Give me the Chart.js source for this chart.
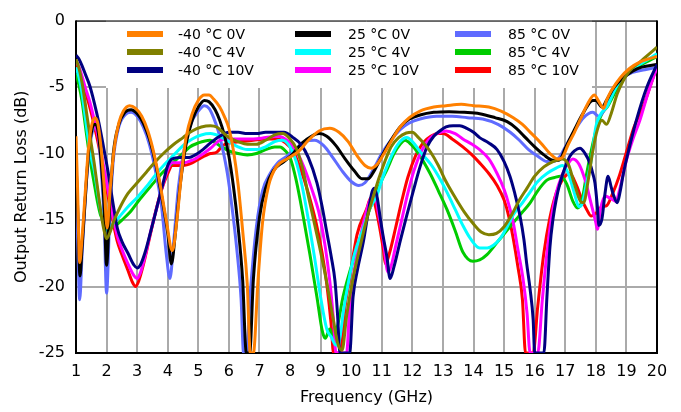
<!DOCTYPE html>
<html>
<head>
<meta charset="utf-8">
<script src="https://cdn.jsdelivr.net/npm/chart.js@4"></script>
<style>
html, body { margin: 0; padding: 0; background: #fff; }
canvas { display: block; }
</style>
</head>
<body>
<canvas id="grafico" width="681" height="412"></canvas>
<script>
// output return loss curves, [frequency GHz, dB]
const m40_0V = [[1.0,-8.7],[1.05,-12.5],[1.12,-18.2],[1.2,-16.3],[1.3,-13.0],[1.4,-9.8],[1.5,-8.0],[1.62,-7.3],[1.72,-7.8],[1.82,-9.6],[1.92,-12.4],[2.02,-15.6],[2.12,-12.6],[2.25,-9.6],[2.4,-7.7],[2.55,-6.8],[2.75,-6.4],[2.95,-6.6],[3.15,-7.2],[3.35,-8.3],[3.55,-10.0],[3.75,-12.3],[3.95,-15.0],[4.15,-17.3],[4.3,-15.0],[4.45,-11.5],[4.6,-8.8],[4.8,-7.0],[5.0,-6.0],[5.2,-5.6],[5.35,-5.6],[5.5,-5.9],[5.7,-6.5],[5.85,-7.2],[6.0,-8.1],[6.15,-9.8],[6.3,-12.3],[6.45,-15.8],[6.6,-19.8],[6.7,-25],[6.8,-25],[6.95,-19.6],[7.1,-15.2],[7.3,-12.4],[7.55,-11.0],[7.9,-10.4],[8.25,-9.9],[8.6,-9.0],[8.95,-8.3],[9.3,-8.1],[9.6,-8.4],[9.9,-9.1],[10.2,-10.2],[10.45,-10.9],[10.65,-11.1],[10.85,-10.8],[11.1,-9.9],[11.35,-8.9],[11.6,-8.0],[11.9,-7.3],[12.25,-6.8],[12.7,-6.5],[13.1,-6.4],[13.6,-6.3],[14.0,-6.4],[14.5,-6.5],[14.9,-6.8],[15.3,-7.3],[15.6,-7.8],[15.9,-8.5],[16.2,-9.2],[16.5,-10.0],[16.75,-10.4],[16.9,-10.3],[17.1,-9.3],[17.3,-8.4],[17.5,-7.4],[17.7,-6.4],[17.95,-5.6],[18.1,-6.1],[18.25,-6.6],[18.35,-6.0],[18.5,-5.3],[18.8,-4.3],[19.1,-3.6],[19.45,-3.1],[19.7,-2.9],[20.0,-2.7]];
const m40_4V = [[1.0,-2.9],[1.1,-3.6],[1.2,-4.7],[1.3,-6.2],[1.4,-7.8],[1.5,-9.3],[1.6,-10.8],[1.7,-12.5],[1.8,-14.2],[1.9,-15.6],[2.0,-16.4],[2.1,-16.0],[2.25,-15.0],[2.45,-14.0],[2.7,-13.0],[3.0,-12.2],[3.3,-11.4],[3.6,-10.6],[3.9,-9.9],[4.2,-9.3],[4.5,-8.8],[4.8,-8.3],[5.1,-8.0],[5.4,-7.9],[5.6,-8.0],[5.8,-8.4],[6.0,-8.8],[6.3,-9.1],[6.6,-9.3],[6.9,-9.3],[7.2,-9.0],[7.5,-8.6],[7.75,-8.5],[8.0,-8.9],[8.2,-9.6],[8.4,-11.0],[8.6,-13.2],[8.8,-15.3],[9.0,-17.4],[9.2,-19.7],[9.4,-22.3],[9.55,-24.2],[9.7,-24.8],[9.85,-22.2],[10.05,-19.5],[10.3,-16.9],[10.5,-15.0],[10.7,-13.4],[10.9,-11.9],[11.1,-10.6],[11.3,-9.5],[11.55,-8.8],[11.8,-8.45],[12.0,-8.4],[12.2,-8.8],[12.4,-9.3],[12.6,-9.9],[12.85,-10.9],[13.1,-12.1],[13.4,-13.3],[13.7,-14.4],[14.0,-15.3],[14.25,-15.9],[14.5,-16.1],[14.75,-16.0],[15.0,-15.5],[15.25,-14.6],[15.5,-13.5],[15.75,-12.6],[16.0,-11.7],[16.3,-11.0],[16.6,-10.6],[16.9,-10.4],[17.1,-10.8],[17.3,-12.3],[17.5,-13.6],[17.6,-13.7],[17.75,-12.0],[17.9,-9.8],[18.05,-8.2],[18.2,-7.5],[18.35,-7.8],[18.5,-7.0],[18.7,-5.5],[18.9,-4.5],[19.1,-3.8],[19.45,-3.1],[19.7,-2.6],[20.0,-2.0]];
const m40_10V = [[1.0,-2.6],[1.1,-2.9],[1.2,-3.4],[1.3,-4.0],[1.45,-4.9],[1.6,-6.2],[1.75,-7.7],[1.9,-9.5],[2.05,-11.4],[2.2,-13.6],[2.35,-15.6],[2.5,-16.6],[2.7,-17.5],[2.9,-18.4],[3.0,-18.6],[3.1,-18.4],[3.25,-17.5],[3.45,-15.8],[3.65,-14.0],[3.85,-12.2],[4.0,-10.9],[4.15,-10.4],[4.4,-10.3],[4.7,-10.3],[4.9,-10.1],[5.15,-9.7],[5.4,-9.2],[5.7,-8.7],[6.0,-8.4],[6.3,-8.4],[6.6,-8.5],[6.9,-8.5],[7.2,-8.4],[7.5,-8.4],[7.8,-8.4],[8.1,-8.8],[8.35,-9.3],[8.6,-10.3],[8.88,-12.2],[9.05,-14.0],[9.2,-15.9],[9.35,-17.8],[9.47,-19.6],[9.55,-22.0],[9.63,-25],[9.95,-25],[10.06,-20.8],[10.2,-18.8],[10.4,-16.6],[10.55,-14.5],[10.68,-12.9],[10.76,-12.6],[10.85,-13.3],[10.94,-14.7],[11.05,-16.3],[11.17,-17.8],[11.27,-19.4],[11.4,-18.5],[11.6,-16.6],[11.8,-14.8],[12.02,-12.9],[12.25,-11.0],[12.48,-9.5],[12.7,-8.7],[12.9,-8.3],[13.1,-8.0],[13.33,-7.9],[13.55,-7.9],[13.78,-8.1],[14.0,-8.4],[14.2,-8.8],[14.5,-9.2],[14.77,-9.7],[15.0,-10.6],[15.19,-11.7],[15.35,-13.0],[15.52,-14.7],[15.65,-16.5],[15.74,-18.3],[15.85,-20.2],[15.95,-22.5],[16.0,-25],[16.3,-25],[16.4,-20.8],[16.5,-17.0],[16.6,-14.9],[16.7,-13.5],[16.83,-12.2],[17.0,-11.0],[17.15,-10.2],[17.3,-9.8],[17.48,-9.6],[17.65,-10.0],[17.8,-10.7],[17.9,-11.5],[17.97,-12.2],[18.05,-14.0],[18.1,-15.4],[18.2,-14.9],[18.3,-13.0],[18.4,-11.7],[18.5,-12.5],[18.56,-13.0],[18.7,-13.7],[18.8,-12.8],[18.9,-11.5],[19.1,-9.5],[19.35,-7.3],[19.67,-5.0],[20.0,-3.3]];
const t25_0V = [[1.0,-10.5],[1.06,-14.5],[1.13,-19.2],[1.2,-17.0],[1.3,-13.5],[1.4,-10.2],[1.52,-8.2],[1.62,-7.8],[1.72,-8.3],[1.82,-10.5],[1.92,-14.0],[2.0,-18.4],[2.1,-14.0],[2.22,-10.0],[2.4,-7.8],[2.6,-6.9],[2.8,-6.7],[3.0,-7.0],[3.2,-7.7],[3.4,-8.9],[3.6,-10.7],[3.8,-13.2],[4.0,-16.0],[4.12,-18.3],[4.25,-16.0],[4.4,-12.5],[4.6,-9.3],[4.8,-7.5],[5.0,-6.5],[5.2,-6.0],[5.35,-6.1],[5.55,-6.7],[5.7,-7.5],[5.85,-8.6],[6.0,-10.2],[6.15,-12.5],[6.3,-15.5],[6.45,-19.5],[6.57,-25],[6.68,-25],[6.8,-19.5],[7.0,-14.8],[7.2,-12.6],[7.45,-11.3],[7.8,-10.6],[8.1,-10.0],[8.4,-9.2],[8.7,-8.7],[8.95,-8.5],[9.2,-8.7],[9.5,-9.4],[9.8,-10.4],[10.1,-11.3],[10.35,-11.9],[10.55,-11.9],[10.75,-11.3],[11.0,-10.2],[11.3,-9.0],[11.6,-8.0],[11.9,-7.4],[12.25,-7.1],[12.7,-6.9],[13.2,-6.85],[13.7,-6.9],[14.2,-7.0],[14.7,-7.3],[15.1,-7.6],[15.4,-8.1],[15.7,-8.8],[16.0,-9.5],[16.3,-10.1],[16.6,-10.5],[16.8,-10.5],[17.0,-9.6],[17.3,-8.2],[17.6,-6.9],[17.9,-6.0],[18.0,-6.0],[18.2,-6.5],[18.35,-6.0],[18.6,-5.0],[18.9,-4.3],[19.2,-3.8],[19.5,-3.5],[20.0,-3.3]];
const t25_4V = [[1.0,-3.5],[1.1,-4.3],[1.2,-5.5],[1.3,-7.2],[1.4,-8.9],[1.5,-10.3],[1.6,-11.3],[1.7,-12.8],[1.8,-14.2],[1.9,-15.3],[2.05,-15.8],[2.2,-15.3],[2.4,-14.8],[2.7,-14.0],[3.0,-13.3],[3.3,-12.5],[3.6,-11.6],[3.9,-10.8],[4.2,-10.1],[4.5,-9.4],[4.8,-8.9],[5.1,-8.6],[5.4,-8.5],[5.7,-8.7],[6.0,-9.1],[6.3,-9.5],[6.6,-9.7],[6.9,-9.7],[7.2,-9.5],[7.5,-9.1],[7.75,-9.0],[8.0,-9.5],[8.2,-10.6],[8.4,-12.5],[8.6,-15.0],[8.8,-17.8],[9.0,-20.8],[9.2,-23.2],[9.35,-23.8],[9.5,-24.4],[9.6,-24.2],[9.75,-21.8],[9.9,-19.8],[10.1,-17.6],[10.4,-15.6],[10.6,-14.2],[10.85,-13.1],[11.0,-12.0],[11.2,-10.8],[11.4,-9.8],[11.6,-9.1],[11.82,-8.8],[12.0,-9.1],[12.3,-10.0],[12.6,-10.8],[12.9,-11.9],[13.15,-13.0],[13.4,-14.2],[13.65,-15.4],[13.9,-16.4],[14.2,-17.1],[14.45,-17.1],[14.65,-16.9],[14.9,-16.3],[15.1,-15.5],[15.3,-14.6],[15.6,-13.7],[15.85,-12.9],[16.1,-12.1],[16.4,-11.5],[16.7,-11.1],[16.9,-10.9],[17.1,-11.5],[17.3,-13.0],[17.45,-14.0],[17.55,-13.8],[17.7,-12.2],[17.85,-10.5],[18.0,-8.0],[18.2,-6.9],[18.36,-6.5],[18.6,-5.3],[18.9,-4.1],[19.2,-3.6],[19.5,-3.2],[20.0,-2.5]];
const t25_10V = [[1.0,-3.0],[1.1,-3.5],[1.2,-4.2],[1.3,-5.0],[1.45,-6.1],[1.6,-7.5],[1.75,-9.0],[1.9,-10.9],[2.05,-12.8],[2.2,-14.6],[2.35,-16.2],[2.5,-17.2],[2.7,-18.3],[2.9,-19.2],[3.0,-19.4],[3.1,-19.0],[3.25,-17.8],[3.45,-15.8],[3.65,-14.0],[3.85,-12.3],[4.0,-11.2],[4.15,-10.7],[4.5,-10.7],[4.8,-10.5],[5.1,-10.1],[5.4,-9.6],[5.7,-9.0],[6.0,-8.9],[6.4,-8.9],[6.8,-8.9],[7.2,-8.8],[7.6,-8.7],[7.9,-9.0],[8.2,-9.8],[8.45,-11.0],[8.7,-12.6],[8.95,-14.5],[9.15,-17.0],[9.3,-19.6],[9.42,-22.5],[9.5,-25],[9.85,-25],[9.95,-21.5],[10.1,-18.8],[10.29,-16.4],[10.5,-14.3],[10.68,-13.3],[10.78,-13.3],[10.9,-14.6],[11.05,-16.5],[11.2,-18.9],[11.3,-18.5],[11.45,-17.0],[11.65,-15.0],[11.85,-13.0],[12.05,-11.3],[12.3,-9.8],[12.55,-8.9],[12.8,-8.5],[13.1,-8.3],[13.4,-8.5],[13.65,-8.9],[13.95,-9.3],[14.2,-9.7],[14.5,-10.4],[14.77,-11.5],[15.0,-12.7],[15.15,-13.8],[15.3,-15.2],[15.45,-17.2],[15.63,-19.6],[15.75,-22.0],[15.85,-25],[16.1,-25],[16.25,-21.0],[16.4,-17.5],[16.55,-14.8],[16.7,-13.0],[16.9,-11.6],[17.05,-10.9],[17.25,-10.4],[17.45,-10.8],[17.65,-12.0],[17.85,-13.8],[18.0,-15.2],[18.05,-15.7],[18.15,-14.2],[18.3,-13.2],[18.5,-13.4],[18.65,-13.6],[18.8,-12.5],[19.0,-10.5],[19.2,-9.0],[19.44,-7.5],[19.7,-5.5],[20.0,-3.5]];
const t85_0V = [[1.0,-12.5],[1.05,-16.0],[1.12,-21.0],[1.2,-17.5],[1.3,-13.5],[1.4,-10.5],[1.52,-8.5],[1.62,-8.0],[1.72,-8.6],[1.82,-11.0],[1.92,-15.0],[2.0,-20.5],[2.1,-15.0],[2.22,-10.5],[2.4,-8.0],[2.6,-7.1],[2.8,-6.9],[3.0,-7.2],[3.2,-8.0],[3.4,-9.3],[3.6,-11.3],[3.8,-14.0],[3.95,-17.5],[4.07,-19.4],[4.2,-16.5],[4.35,-12.5],[4.55,-9.5],[4.75,-7.8],[5.0,-6.8],[5.2,-6.4],[5.35,-6.6],[5.5,-7.3],[5.65,-8.3],[5.8,-9.7],[5.95,-11.5],[6.1,-14.0],[6.25,-17.0],[6.4,-21.0],[6.48,-25],[6.58,-25],[6.7,-20.5],[6.9,-15.5],[7.1,-12.8],[7.35,-11.5],[7.6,-10.7],[7.9,-10.2],[8.2,-9.6],[8.5,-9.1],[8.8,-9.0],[9.1,-9.4],[9.4,-10.3],[9.7,-11.3],[10.0,-12.1],[10.25,-12.4],[10.45,-12.2],[10.7,-11.3],[11.0,-10.0],[11.3,-9.0],[11.6,-8.2],[11.9,-7.7],[12.25,-7.4],[12.8,-7.2],[13.3,-7.2],[13.8,-7.3],[14.3,-7.4],[14.8,-7.8],[15.2,-8.4],[15.5,-9.0],[15.8,-9.7],[16.1,-10.2],[16.4,-10.6],[16.6,-10.6],[16.8,-10.3],[17.0,-9.5],[17.3,-8.3],[17.6,-7.3],[17.9,-6.9],[18.1,-7.2],[18.3,-6.6],[18.55,-5.3],[18.9,-4.3],[19.2,-3.9],[19.6,-3.7],[20.0,-3.5]];
const t85_4V = [[1.0,-4.0],[1.1,-4.9],[1.2,-6.1],[1.3,-7.8],[1.4,-9.5],[1.5,-11.0],[1.6,-12.3],[1.7,-13.6],[1.8,-14.6],[1.95,-15.3],[2.1,-15.5],[2.3,-15.4],[2.5,-15.0],[2.77,-14.4],[3.1,-13.4],[3.5,-12.3],[3.8,-11.5],[4.07,-10.9],[4.4,-10.2],[4.72,-9.5],[5.0,-9.2],[5.38,-9.0],[5.7,-9.4],[6.0,-9.8],[6.3,-10.0],[6.6,-10.1],[6.9,-10.0],[7.2,-9.7],[7.5,-9.5],[7.67,-9.5],[7.85,-9.8],[8.0,-10.3],[8.2,-12.0],[8.42,-14.6],[8.65,-17.6],[8.88,-20.8],[9.05,-23.3],[9.15,-23.9],[9.3,-23.2],[9.4,-23.8],[9.55,-23.0],[9.73,-20.8],[9.95,-18.9],[10.29,-16.4],[10.55,-14.5],[10.84,-12.9],[11.0,-12.0],[11.17,-11.2],[11.4,-10.0],[11.6,-9.3],[11.76,-9.0],[11.95,-9.3],[12.2,-10.0],[12.58,-11.5],[12.85,-12.8],[13.13,-14.2],[13.4,-15.8],[13.65,-17.4],[13.98,-18.1],[14.2,-18.0],[14.44,-17.6],[14.8,-16.6],[15.3,-15.2],[15.6,-14.4],[15.85,-13.7],[16.1,-12.8],[16.4,-12.0],[16.65,-11.8],[16.85,-11.7],[17.05,-12.3],[17.25,-13.6],[17.4,-14.1],[17.55,-13.5],[17.7,-11.5],[17.85,-9.8],[18.0,-8.3],[18.2,-7.0],[18.4,-6.4],[18.65,-5.3],[18.9,-4.3],[19.2,-3.7],[19.5,-3.3],[20.0,-2.7]];
const t85_10V = [[1.0,-3.2],[1.1,-3.7],[1.2,-4.4],[1.3,-5.3],[1.45,-6.5],[1.6,-7.9],[1.75,-9.5],[1.9,-11.3],[2.05,-13.2],[2.2,-15.0],[2.35,-16.6],[2.5,-17.6],[2.7,-18.8],[2.85,-19.7],[2.95,-20.0],[3.05,-19.6],[3.2,-18.4],[3.4,-16.4],[3.6,-14.4],[3.8,-12.7],[4.0,-11.5],[4.15,-10.9],[4.5,-10.9],[4.8,-10.7],[5.1,-10.3],[5.4,-10.0],[5.6,-9.9],[5.8,-9.4],[6.0,-9.2],[6.4,-9.1],[6.8,-9.0],[7.2,-8.9],[7.6,-8.9],[7.85,-9.2],[8.1,-9.8],[8.35,-11.2],[8.6,-13.0],[8.85,-15.2],[9.05,-17.5],[9.2,-19.8],[9.35,-23.0],[9.42,-25],[9.65,-25],[9.8,-21.5],[9.95,-19.4],[10.19,-16.1],[10.5,-14.2],[10.65,-13.3],[10.75,-13.6],[10.9,-15.2],[11.05,-17.2],[11.12,-18.3],[11.25,-17.5],[11.45,-15.6],[11.65,-13.6],[11.85,-11.8],[12.1,-10.2],[12.35,-9.2],[12.6,-8.7],[12.85,-8.5],[13.0,-8.5],[13.3,-8.9],[13.65,-9.5],[13.95,-10.1],[14.2,-10.7],[14.5,-11.5],[14.77,-12.4],[15.0,-13.5],[15.15,-14.7],[15.3,-16.4],[15.45,-18.5],[15.6,-21.0],[15.7,-25],[15.95,-25],[16.1,-21.5],[16.3,-17.5],[16.5,-14.8],[16.7,-13.0],[16.9,-12.0],[17.15,-11.5],[17.35,-12.3],[17.55,-13.5],[17.7,-14.2],[17.85,-14.7],[18.0,-14.5],[18.2,-14.0],[18.36,-13.9],[18.55,-13.0],[18.75,-11.8],[19.0,-9.9],[19.25,-8.0],[19.54,-6.5],[19.8,-4.8],[20.0,-3.4]];

const seriesNames = ["-40 °C 0V", "-40 °C 4V", "-40 °C 10V", "25 °C 0V", "25 °C 4V", "25 °C 10V", "85 °C 0V", "85 °C 4V", "85 °C 10V"];
const allSeries = [m40_0V, m40_4V, m40_10V, t25_0V, t25_4V, t25_10V, t85_0V, t85_4V, t85_10V];
const seriesColors = ["#ff8000", "#808000", "#000080", "#000000", "#00ffff", "#ff00ff", "#5f6bff", "#00cc00", "#ff0000"];

const fonte = "'DejaVu Sans', Verdana, sans-serif";

// legend box sits inside the plot, on top of the grid
const legendaPlugin = {
    id: "legenda",
    beforeDatasetsDraw(chart) {
        const ctx = chart.ctx;
        const a = chart.chartArea;
        ctx.save();
        ctx.fillStyle = "#fff";
        ctx.fillRect(106, a.top, 592 - 106, 88 - a.top);

        const colLine = [127, 295, 455];
        const colText = [178, 348, 508];
        const rowY = [34, 52, 70];
        ctx.font = "14px " + fonte;
        ctx.textBaseline = "middle";
        for (let i = 0; i < seriesNames.length; i++) {
            let c = Math.floor(i / 3), r = i % 3;
            ctx.strokeStyle = seriesColors[i];
            ctx.lineWidth = 6;
            ctx.beginPath();
            ctx.moveTo(colLine[c], rowY[r]);
            ctx.lineTo(colLine[c] + 36, rowY[r]);
            ctx.stroke();
            ctx.fillStyle = "#000";
            ctx.fillText(seriesNames[i], colText[c], rowY[r] + 1);
        }

        // frame
        ctx.strokeStyle = "#000";
        ctx.lineWidth = 1;
        ctx.beginPath();
        ctx.moveTo(a.left, a.top + 0.5);
        ctx.lineTo(a.right, a.top + 0.5);
        ctx.stroke();
        ctx.lineWidth = 2;
        ctx.beginPath();
        ctx.moveTo(a.left, a.top);
        ctx.lineTo(a.left, a.bottom);
        ctx.lineTo(a.right, a.bottom);
        ctx.lineTo(a.right, a.top);
        ctx.stroke();
        ctx.restore();
    }
};

new Chart(document.getElementById("grafico").getContext("2d"), {
    type: "line",
    data: {
        datasets: allSeries.map((s, i) => ({
            label: seriesNames[i],
            data: s.map(p => ({ x: p[0], y: p[1] })),
            borderColor: seriesColors[i],
            backgroundColor: seriesColors[i],
            borderWidth: 3,
            pointRadius: 0,
            cubicInterpolationMode: "monotone",
            fill: false
        }))
    },
    options: {
        responsive: false,
        animation: false,
        events: [],
        layout: { padding: { top: 15, right: 24, left: 0, bottom: 0 } },
        plugins: {
            legend: { display: false },
            tooltip: { enabled: false }
        },
        scales: {
            x: {
                type: "linear",
                min: 1,
                max: 20,
                afterFit: s => { s.height = 59; },
                ticks: { stepSize: 1, color: "#000", padding: 9, font: { family: fonte, size: 16 } },
                grid: { color: "#aaaaaa", lineWidth: 2, drawTicks: false },
                border: { display: false },
                title: { display: true, text: "Frequency (GHz)", color: "#000", padding: { top: 0, bottom: 5 }, font: { family: fonte, size: 16 } }
            },
            y: {
                min: -25,
                max: 0,
                afterFit: s => { s.width = 76; },
                ticks: { stepSize: 5, color: "#000", padding: 11, font: { family: fonte, size: 16 } },
                grid: { color: "#aaaaaa", lineWidth: 2, drawTicks: false },
                border: { display: false },
                title: { display: true, text: "Output Return Loss (dB)", color: "#000", padding: { top: 12, bottom: 0 }, font: { family: fonte, size: 16 } }
            }
        }
    },
    plugins: [legendaPlugin]
});
</script>
</body>
</html>
